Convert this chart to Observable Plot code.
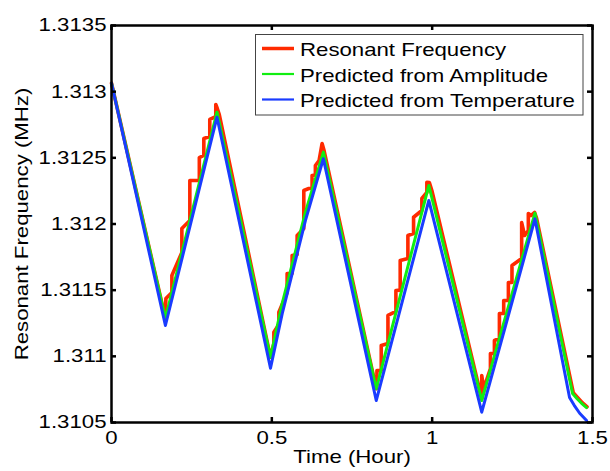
<!DOCTYPE html>
<html>
<head>
<meta charset="utf-8">
<script src="https://cdn.jsdelivr.net/npm/d3@7"></script>
<script src="https://cdn.jsdelivr.net/npm/@observablehq/plot@0.6"></script>
<style>
  html, body { margin: 0; padding: 0; background: #fff; }
  #chart svg { display: block; }
</style>
</head>
<body>
<div id="chart"></div>
<script>
// ---- Data (time in hours, frequency in MHz) ----
const seriesNames = ["Resonant Frequency", "Predicted from Amplitude", "Predicted from Temperature"];
const seriesColors = ["#ff2a00", "#11ee11", "#1a3cff"];

const resonantFrequency = [
  [0,1.313064],
  [0.1681,1.311286],[0.1696,1.311437],[0.1883,1.311482],[0.1883,1.311611],[0.2194,1.311785],[0.2194,1.311966],
  [0.2443,1.312026],[0.2443,1.312329],[0.2739,1.312329],[0.2739,1.312502],[0.2879,1.312518],[0.2879,1.312646],
  [0.3065,1.312661],[0.3065,1.312790],[0.3252,1.312812],[0.3252,1.312903],[0.3299,1.312873],[0.3361,1.312827],
  [0.4958,1.310993],[0.5063,1.311097],[0.5063,1.311182],[0.5219,1.311241],[0.5219,1.311334],[0.5477,1.311482],
  [0.5477,1.311626],[0.5633,1.311626],[0.5633,1.311762],[0.5789,1.311770],[0.5789,1.311913],[0.5997,1.311966],
  [0.5997,1.312253],[0.6153,1.312268],[0.6255,1.312268],[0.6255,1.312367],[0.6358,1.312370],[0.6358,1.312442],
  [0.6473,1.312480],[0.6567,1.312608],[0.6629,1.312555],
  [0.8256,1.310755],[0.8278,1.310780],[0.8278,1.310893],[0.8412,1.310893],[0.8412,1.311082],[0.8621,1.311097],
  [0.8621,1.311309],[0.8869,1.311339],[0.8869,1.311497],[0.9003,1.311500],[0.9003,1.311724],[0.9243,1.311739],
  [0.9243,1.311913],[0.9420,1.311928],[0.9420,1.312051],[0.9679,1.312102],[0.9679,1.312193],[0.9834,1.312238],
  [0.9834,1.312316],[0.9912,1.312314],[0.9990,1.312253],
  [1.1546,1.310681],[1.1546,1.310855],[1.1608,1.310757],[1.1817,1.310908],[1.1817,1.311021],[1.1941,1.311021],
  [1.1941,1.311120],[1.2097,1.311135],[1.2097,1.311324],[1.2231,1.311324],[1.2231,1.311422],[1.2377,1.311422],
  [1.2377,1.311558],[1.2489,1.311558],[1.2489,1.311686],[1.2791,1.311739],[1.2791,1.312011],[1.2884,1.311913],
  [1.2999,1.311951],[1.2999,1.312079],[1.3080,1.312064],[1.3195,1.312087],[1.3257,1.312042],
  [1.4400,1.310725],[1.4540,1.310688],[1.4680,1.310650],[1.4830,1.310618]
];

const predictedAmplitude = [
  [0,1.313064],[0.1681,1.311286],[0.3290,1.312845],[0.4958,1.310993],[0.5322,1.311399],[0.6047,1.312087],
  [0.6607,1.312543],[0.8256,1.310755],[0.9896,1.312291],[1.1546,1.310666],[1.3205,1.312082],
  [1.4378,1.310719],[1.4520,1.310680],[1.4660,1.310645],[1.4814,1.310613]
];

const predictedTemperature = [
  [0,1.313064],[0.1681,1.311233],[0.3290,1.312807],[0.4958,1.310910],[0.5322,1.311321],[0.6047,1.312026],
  [0.6607,1.312493],[0.8256,1.310666],[0.9896,1.312178],[1.1546,1.310578],[1.3205,1.312039],
  [1.4284,1.310689],[1.4430,1.310630],[1.4600,1.310570],[1.4814,1.310515]
];

const xTicks = [0, 0.5, 1, 1.5];
const yTicks = [1.3105, 1.311, 1.3115, 1.312, 1.3125, 1.313, 1.3135];
const xLabel = "Time (Hour)";
const yLabel = "Resonant Frequency (MHz)";

// ---- Layout ----
const W = 610, H = 471;
const mL = 111, mR = 18, mT = 25, mB = 49;
const plotW = W - mL - mR, plotH = H - mT - mB;
const tickLen = 5;
const FONT = "Liberation Sans, Arial, Helvetica, sans-serif";

const series = [resonantFrequency, predictedAmplitude, predictedTemperature];
const widths = [3.6, 3, 3];

const chart = Plot.plot({
  width: W,
  height: H,
  marginLeft: mL, marginRight: mR, marginTop: mT, marginBottom: mB,
  style: { fontFamily: FONT, fontSize: "18.5px", background: "white", color: "black" },
  x: { domain: [0, 1.5], label: null },
  y: { domain: [1.3105, 1.3135], label: null },
  marks: [
    ...series.map((s, i) => Plot.line(s, {
      x: d => d[0], y: d => d[1],
      stroke: seriesColors[i], strokeWidth: widths[i],
      strokeLinejoin: "round", strokeLinecap: "round"
    })),
    Plot.frame({ stroke: "black", strokeWidth: 2.5 }),
    // inward ticks on all four sides
    Plot.tickX(xTicks, { x: d => d, insetTop: plotH - tickLen, stroke: "black", strokeWidth: 2.5 }),
    Plot.tickX(xTicks, { x: d => d, insetBottom: plotH - tickLen, stroke: "black", strokeWidth: 2.5 }),
    Plot.tickY(yTicks, { y: d => d, insetRight: plotW - tickLen, stroke: "black", strokeWidth: 2.5 }),
    Plot.tickY(yTicks, { y: d => d, insetLeft: plotW - tickLen, stroke: "black", strokeWidth: 2.5 }),
    Plot.axisX(xTicks, { anchor: "bottom", tickSize: 0, tickPadding: 8, tickFormat: d => String(d), label: null, fill: "black" }),
    Plot.axisY(yTicks, { anchor: "left", tickSize: 0, tickPadding: 5, tickFormat: d => String(d), label: null, fill: "black" }),
    Plot.text([xLabel], { text: d => d, frameAnchor: "bottom", textAnchor: "middle", dy: 40, fill: "black" }),
    Plot.text([yLabel], { text: d => d, frameAnchor: "left", textAnchor: "middle", dx: -89, rotate: -90, fill: "black" })
  ]
});

document.getElementById("chart").appendChild(chart);

// ---- Legend (inside the plot, top right) ----
const svg = d3.select(chart);
const lg = svg.append("g")
  .attr("font-family", FONT).attr("font-size", "18.5px").attr("text-anchor", "start");
lg.append("rect")
  .attr("x", 255.5).attr("y", 34.5).attr("width", 327.5).attr("height", 80.5)
  .attr("fill", "white").attr("stroke", "#444").attr("stroke-width", 1);
seriesNames.forEach((name, i) => {
  const y = 48.5 + i * 25.5;
  lg.append("line")
    .attr("x1", 262).attr("x2", 294).attr("y1", y).attr("y2", y)
    .attr("stroke", seriesColors[i]).attr("stroke-width", i === 0 ? 3.5 : 2.2);
  lg.append("text")
    .attr("x", 300).attr("y", y + 1.3).attr("dy", "0.35em")
    .attr("text-anchor", "start")
    .attr("fill", "black").text(name);
});

// ---- Horizontally widen all text to match the reference's stretched lettering ----
const STRETCH = 1.2;
chart.querySelectorAll("text").forEach(t => {
  const L = t.getComputedTextLength();
  if (L > 0) {
    t.setAttribute("textLength", (L * STRETCH).toFixed(2));
    t.setAttribute("lengthAdjust", "spacingAndGlyphs");
  }
});
</script>
</body>
</html>
